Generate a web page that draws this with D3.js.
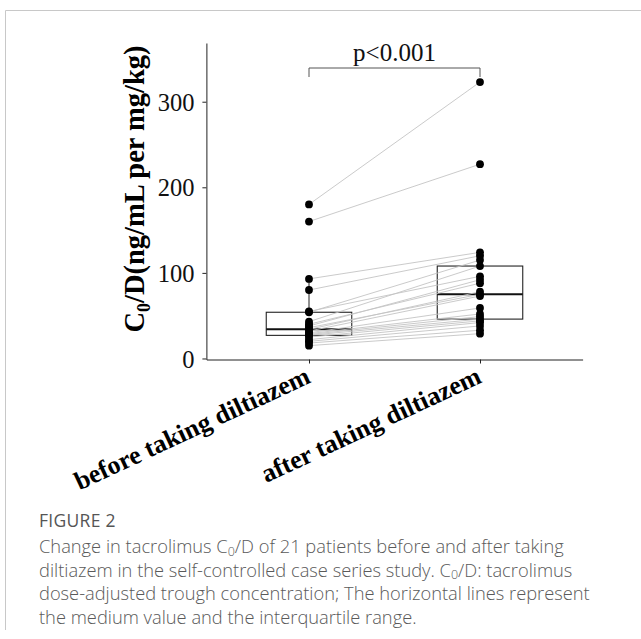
<!DOCTYPE html>
<html><head><meta charset="utf-8">
<script src="https://cdn.jsdelivr.net/npm/d3@7"></script>
<style>body{margin:0;background:#fff}</style>
</head><body>
<svg id="c" width="641" height="639"></svg>
<script>
const categories = ["before taking diltiazem", "after taking diltiazem"];
const beforeValues = [180,160,93,80,54,55,43,40,38,36,34,32,30,29,28,27,25,22,20,18,15];
const afterValues  = [323,227,124,120,115,96,108,88,92,75,78,73,59,52,49,46,44,42,38,33,29];
const yTicks = [0,100,200,300];
const pLabel = "p<0.001";
const captionTitle = "FIGURE 2";

const svg = d3.select("#c");
const serif = "'Liberation Serif','Times New Roman',serif";

// frame
svg.append("path").attr("d","M5.5,630 V10.5 H641").attr("fill","none").attr("stroke","#c8c8c8").attr("stroke-width",1);

const x = d3.scalePoint().domain(categories).range([206.4,582.6]).padding(0.6);
const y = d3.scaleLinear().domain([-1.2,368.6]).range([359.5,43]);
const step = x.step();

// axes
const gy = svg.append("g").attr("transform","translate(206.4,0)")
  .call(d3.axisLeft(y).tickValues(yTicks).tickSize(4).tickPadding(8).tickSizeOuter(0));
gy.selectAll("text").style("font-family",serif).style("font-size","24.5px").attr("fill","#111").attr("dy","0.35em");
gy.selectAll("line,path").attr("stroke","#222");

const gx = svg.append("g").attr("transform","translate(0,359.5)")
  .call(d3.axisBottom(x).tickSize(4).tickSizeOuter(0).tickFormat(""));
gx.selectAll("line,path").attr("stroke","#222");

// x tick labels rotated
svg.append("g").selectAll("text").data(categories).join("text")
  .attr("transform",d=>`translate(${x(d)+3},${382}) rotate(-25)`)
  .attr("text-anchor","end")
  .style("font-family",serif).style("font-size","26px").style("font-weight","bold")
  .attr("fill","#000")
  .text(d=>d);

// y title
const yt = svg.append("text")
  .attr("transform","translate(144,189) rotate(-90)")
  .attr("text-anchor","middle")
  .style("font-family",serif).style("font-size","28.5px").style("font-weight","bold")
  .attr("fill","#000");
yt.append("tspan").text("C");
yt.append("tspan").attr("dy",6).style("font-size","18px").text("0");
yt.append("tspan").attr("dy",-6).text("/D(ng/mL per mg/kg)");

// boxplots
const groups = [beforeValues, afterValues];
groups.forEach((vals,i)=>{
  const s = vals.slice().sort(d3.ascending);
  const q1 = d3.quantile(s,0.25), med = d3.quantile(s,0.5), q3 = d3.quantile(s,0.75);
  const iqr = q3-q1;
  const hi = d3.max(s.filter(v=>v<=q3+1.5*iqr));
  const lo = d3.min(s.filter(v=>v>=q1-1.5*iqr));
  const cx = x(categories[i]);
  const hw = step*0.25;
  const g = svg.append("g");
  g.append("line").attr("x1",cx).attr("x2",cx).attr("y1",y(q3)).attr("y2",y(hi)).attr("stroke","#222");
  g.append("line").attr("x1",cx).attr("x2",cx).attr("y1",y(q1)).attr("y2",y(lo)).attr("stroke","#222");
  g.append("rect").attr("x",cx-hw).attr("width",2*hw).attr("y",y(q3)).attr("height",y(q1)-y(q3))
    .attr("fill","none").attr("stroke","#222").attr("stroke-width",1.1);
  g.append("line").attr("x1",cx-hw).attr("x2",cx+hw).attr("y1",y(med)).attr("y2",y(med)).attr("stroke","#111").attr("stroke-width",2);
});

// paired lines
svg.append("g").selectAll("line").data(beforeValues).join("line")
  .attr("x1",x(categories[0])).attr("x2",x(categories[1]))
  .attr("y1",d=>y(d)).attr("y2",(d,i)=>y(afterValues[i]))
  .attr("stroke","#c4c4c4").attr("stroke-width",0.9);

// points
groups.forEach((vals,i)=>{
  svg.append("g").selectAll("circle").data(vals).join("circle")
    .attr("cx",x(categories[i])).attr("cy",d=>y(d)).attr("r",3.9).attr("fill","#000");
});

// p-value bracket
const bx1 = x(categories[0]), bx2 = x(categories[1]);
svg.append("path").attr("d",`M${bx1},77 V68 H${bx2} V77`).attr("fill","none").attr("stroke","#555").attr("stroke-width",1);
svg.append("text").attr("x",(bx1+bx2)/2).attr("y",61).attr("text-anchor","middle")
  .style("font-family",serif).style("font-size","25px").attr("fill","#111").text(pLabel);

// caption
const sans = "'Open Sans','Noto Sans',sans-serif";
svg.append("text").attr("x",39).attr("y",527).style("font-family",sans).style("font-size","17.5px")
  .style("letter-spacing","0.3px").attr("fill","#555").text(captionTitle);
const capLines = [
  ["Change in tacrolimus C","0","/D of 21 patients before and after taking"],
  ["diltiazem in the self-controlled case series study. C","0","/D: tacrolimus"],
  ["dose-adjusted trough concentration; The horizontal lines represent"],
  ["the medium value and the interquartile range."]
];
capLines.forEach((parts,i)=>{
  const t = svg.append("text").attr("x",39).attr("y",553+i*23.5).style("font-family",sans)
    .style("font-size","18.3px").style("font-weight","300").attr("fill","#5a5a5a");
  parts.forEach((p,j)=>{
    const ts = t.append("tspan").text(p);
    if (j===1) ts.attr("dy",2.5).style("font-size","12.5px");
    if (j===2) ts.attr("dy",-2.5);
  });
});
</script>
</body></html>
